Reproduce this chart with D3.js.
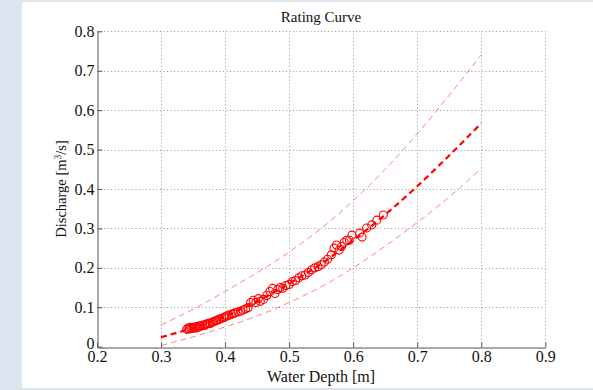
<!DOCTYPE html>
<html>
<head>
<meta charset="utf-8">
<script src="https://cdn.jsdelivr.net/npm/d3@7"></script>
<style>
  html, body { margin: 0; padding: 0; background: #dce4ef; }
  svg { display: block; }
  text { font-family: "Liberation Serif", "Times New Roman", serif; fill: #111; }
</style>
</head>
<body>
<div id="chart"></div>
<script>
// fitted rating curve and its bands
const curveDepth = [0.30, 0.35, 0.40, 0.45, 0.50, 0.55, 0.60, 0.65, 0.70, 0.75, 0.80];
const curveMid   = [0.024, 0.048, 0.078, 0.115, 0.160, 0.210, 0.270, 0.335, 0.407, 0.485, 0.567];
const curveUpper = [0.055, 0.095, 0.140, 0.188, 0.240, 0.300, 0.370, 0.450, 0.540, 0.638, 0.740];
const curveLower = [0.003, 0.025, 0.050, 0.078, 0.112, 0.152, 0.200, 0.255, 0.315, 0.380, 0.452];

// measured points
const obsDepth = [0.340,0.342,0.344,0.346,0.348,0.350,0.352,0.354,0.356,0.358,0.360,0.362,0.365,0.368,0.370,0.372,0.375,0.377,0.380,0.382,
  0.385,0.387,0.390,0.392,0.395,0.398,0.400,0.403,0.406,0.410,0.413,0.416,0.420,0.424,0.428,0.432,0.436,0.440,0.444,0.448,
  0.452,0.455,0.460,0.465,0.470,0.474,0.478,0.482,0.486,0.490,0.495,0.500,0.505,0.510,0.515,0.520,0.525,0.530,0.535,0.540,
  0.545,0.550,0.555,0.560,0.566,0.570,0.574,0.578,0.582,0.586,0.590,0.594,0.598,0.610,0.614,0.621,0.629,0.637,0.647];
const obsQ = [0.044,0.047,0.045,0.049,0.046,0.048,0.050,0.047,0.051,0.049,0.053,0.052,0.055,0.054,0.057,0.058,0.060,0.059,0.062,0.064,
  0.065,0.067,0.069,0.070,0.072,0.074,0.076,0.078,0.080,0.082,0.084,0.086,0.088,0.090,0.093,0.096,0.099,0.112,0.118,0.112,
  0.122,0.115,0.120,0.130,0.140,0.148,0.135,0.145,0.150,0.148,0.155,0.158,0.165,0.168,0.175,0.180,0.182,0.188,0.195,0.200,
  0.203,0.208,0.215,0.222,0.233,0.250,0.258,0.245,0.254,0.265,0.270,0.270,0.283,0.288,0.278,0.301,0.309,0.321,0.334];

const xTicks = [0.2, 0.3, 0.4, 0.5, 0.6, 0.7, 0.8, 0.9];
const yTicks = [0, 0.1, 0.2, 0.3, 0.4, 0.5, 0.6, 0.7, 0.8];

const W = 593, H = 390;
const svg = d3.select('#chart').append('svg').attr('width', W).attr('height', H);

// white figure panel on the blue page
svg.append('rect').attr('x', 22).attr('y', 2).attr('width', W - 22).attr('height', H - 4).attr('fill', '#fff');

const x = d3.scaleLinear().domain([0.2, 0.9]).range([97, 545.3]);
const y = d3.scaleLinear().domain([0, 0.8]).range([346.7, 31.3]);
const fmt = d => d === 0 ? '0' : d3.format('.1f')(d);

// dotted grid
const grid = svg.append('g').attr('stroke', '#999').attr('stroke-width', 1).attr('stroke-dasharray', '1,2.5');
grid.selectAll('.gx').data(xTicks.slice(1)).join('line')
  .attr('x1', d => Math.round(x(d)) + 0.5).attr('x2', d => Math.round(x(d)) + 0.5)
  .attr('y1', y(0)).attr('y2', y(0.8));
grid.selectAll('.gy').data(yTicks.slice(1)).join('line')
  .attr('y1', d => Math.round(y(d)) + 0.5).attr('y2', d => Math.round(y(d)) + 0.5)
  .attr('x1', x(0.2)).attr('x2', x(0.9));

// axes, ticks inside like matlab
const xAxis = svg.append('g').attr('transform', `translate(0,${Math.round(y(0)) + 0.5})`)
  .call(d3.axisBottom(x).tickValues(xTicks).tickFormat(fmt).tickSizeInner(-5).tickSizeOuter(0).tickPadding(3));
const yAxis = svg.append('g').attr('transform', `translate(${Math.round(x(0.2)) + 0.5},0)`)
  .call(d3.axisLeft(y).tickValues(yTicks).tickFormat(fmt).tickSizeInner(-5).tickSizeOuter(0).tickPadding(3));
[xAxis, yAxis].forEach(a => {
  a.attr('font-family', 'Liberation Serif').attr('font-size', 16);
  a.selectAll('path, line').attr('stroke', '#555');
  a.selectAll('text').attr('fill', '#000');
});
// lift the "0" a touch so it clears the 0.2 under it
yAxis.selectAll('.tick text').filter(d => d === 0).attr('dy', '0.1em');

// curves
const line = vals => d3.line().x((d, i) => x(curveDepth[i])).y(d => y(d)).curve(d3.curveMonotoneX)(vals);
[curveUpper, curveLower].forEach(c => {
  svg.append('path').attr('d', line(c)).attr('fill', 'none')
    .attr('stroke', '#ff3030').attr('stroke-opacity', 0.6).attr('stroke-width', 1).attr('stroke-dasharray', '6,4');
});
svg.append('path').attr('d', line(curveMid)).attr('fill', 'none')
  .attr('stroke', '#ff0000').attr('stroke-width', 2.2).attr('stroke-dasharray', '6,4');

// observations
svg.append('g').selectAll('circle').data(obsDepth).join('circle')
  .attr('cx', d => x(d)).attr('cy', (d, i) => y(obsQ[i])).attr('r', 4)
  .attr('fill', 'none').attr('stroke', '#ff0000').attr('stroke-width', 1.1);

// labels
svg.append('text').text('Rating Curve').attr('x', 321).attr('y', 22)
  .attr('text-anchor', 'middle').style('font-size', '15px');
svg.append('text').text('Water Depth [m]').attr('x', 321).attr('y', 382)
  .attr('text-anchor', 'middle').style('font-size', '16px');
const yl = svg.append('text').attr('transform', 'translate(66,189) rotate(-90)')
  .attr('text-anchor', 'middle').style('font-size', '14.5px');
yl.append('tspan').text('Discharge [m');
yl.append('tspan').text('3').attr('dy', -5).style('font-size', '9.5px');
yl.append('tspan').text('/s]').attr('dy', 5);
</script>
</body>
</html>
